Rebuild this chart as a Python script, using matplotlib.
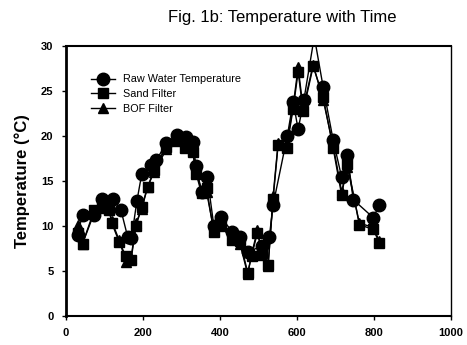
import matplotlib
matplotlib.use("Agg")
import matplotlib.pyplot as plt

# --- DATA ---
raw_x = [30, 43, 72, 93, 110, 121, 143, 160, 170, 184, 197, 222, 235, 261, 289, 313, 329, 338, 352, 367,
         384, 402, 432, 452, 472, 508, 528, 538, 575, 590, 603, 618, 645, 668, 694, 716, 731, 746, 798, 814]
raw_y = [9.0, 11.2, 11.2, 13.0, 12.0, 13.0, 11.7, 8.8, 8.6, 12.7, 15.8, 16.7, 17.3, 19.2, 20.1, 19.9, 19.3, 16.6, 13.8, 15.4,
         10.0, 11.0, 9.3, 8.8, 7.1, 7.7, 8.7, 12.3, 20.0, 23.8, 20.7, 24.0, 31.0, 25.4, 19.5, 15.4, 17.9, 12.9, 10.9, 12.3]

filt_x = [30, 43, 74, 93, 112, 119, 138, 156, 169, 182, 197, 212, 229, 261, 289, 309, 329, 338, 352, 365,
          384, 402, 430, 452, 472, 482, 497, 510, 525, 538, 551, 573, 590, 603, 616, 642, 668, 694, 716, 731,
          762, 798, 814]
sand_y = [9.2, 8.0, 11.8, 12.0, 11.7, 10.3, 8.2, 6.6, 6.2, 10.0, 12.1, 14.3, 16.2, 18.8, 19.5, 18.6, 18.2, 15.8, 13.6, 14.2,
          9.3, 10.2, 8.4, 8.3, 4.8, 6.6, 9.2, 7.0, 5.6, 13.0, 19.0, 18.6, 23.0, 27.1, 22.7, 27.7, 24.3, 18.6, 13.4, 16.9,
          10.1, 9.6, 8.1]
bof_y = [10.1, 8.0, 11.5, 12.2, 11.9, 10.5, 8.4, 6.0, 6.4, 10.3, 11.9, 14.3, 16.0, 18.5, 19.4, 18.8, 18.4, 16.0, 14.0, 13.8,
         9.5, 10.0, 8.6, 8.0, 4.6, 6.8, 9.5, 6.8, 5.5, 13.3, 19.2, 18.9, 23.3, 27.6, 23.0, 27.9, 24.0, 18.9, 13.8, 16.5,
         10.3, 9.8, 8.3]

labels = ["Raw Water Temperature", "Sand Filter", "BOF Filter"]
x_ticks = [0, 200, 400, 600, 800, 1000]
y_ticks = [0, 5, 10, 15, 20, 25, 30]

plt.rcParams['font.family'] = ['Liberation Sans', 'DejaVu Sans']

fig = plt.figure(figsize=(4.67, 3.45), dpi=100)
ax = fig.add_axes([0.1413, 0.0849, 0.8244, 0.7826])

ax.plot(raw_x, raw_y, color='black', lw=1, marker='o', ms=9, label=labels[0])
ax.plot(filt_x, sand_y, color='black', lw=1, marker='s', ms=6.5, label=labels[1])
ax.plot(filt_x, bof_y, color='black', lw=1, marker='^', ms=7, label=labels[2])

ax.set_xlim(0, 1000)
ax.set_ylim(0, 30)
ax.set_xticks(x_ticks)
ax.set_yticks(y_ticks)
ax.tick_params(direction='out', length=3, width=1, labelsize=8, pad=6)
for lab in ax.get_xticklabels() + ax.get_yticklabels():
    lab.set_fontweight('bold')

ax.spines['left'].set_linewidth(2)
ax.spines['bottom'].set_linewidth(1.5)
ax.spines['top'].set_linewidth(1.5)
ax.spines['right'].set_linewidth(1)

ax.set_ylabel("Temperature (\u00b0C)", fontsize=12, fontweight='bold', labelpad=8)

# legend without frame, upper left inside the axes
leg = ax.legend(loc='upper left', bbox_to_anchor=(0.055, 0.91), frameon=False, fontsize=7.8,
                handlelength=2.2, handletextpad=0.7, labelspacing=0.45, borderaxespad=0)

fig.text(0.605, 0.95, "Fig. 1b: Temperature with Time", fontsize=12, ha='center', va='center')

fig.savefig("out.png", dpi=100)
